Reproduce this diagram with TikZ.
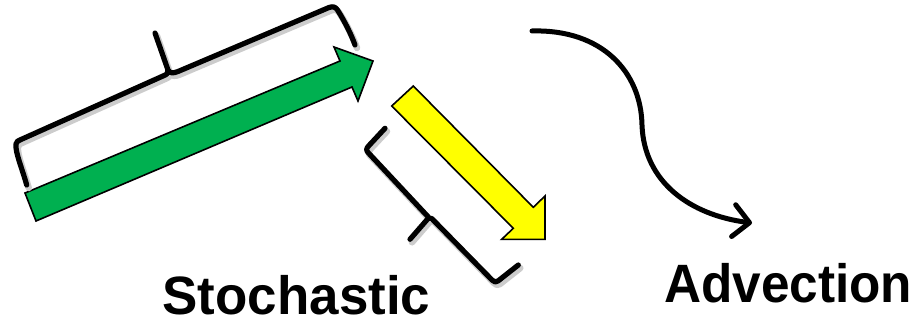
\documentclass[tikz,border=0pt]{standalone}
\usepackage{fontspec}
\setmainfont{Liberation Sans}
\usetikzlibrary{arrows.meta}
\definecolor{pptgreen}{HTML}{00B050}
\definecolor{pptyellow}{HTML}{FFFF00}
\tikzset{
  bracestroke/.style={draw=black, line width=5.2pt, line cap=round, line join=round},
  braceshadow/.style={draw=black!20, line width=6.5pt, line cap=round, line join=round, shift={(2,3)}},
  blockarrow/.style={draw=black, line width=1.6pt, line join=miter},
  label/.style={font=\fontsize{54}{60}\selectfont\bfseries, inner sep=0pt, text depth=0pt, anchor=base west},
  flow/.style={draw=black, line width=5pt, line cap=round, -{Straight Barb[length=16pt, width=32pt, line cap=round, line join=round]}}
}
\newcommand{\TopBracePath}{(26.7,185) .. controls (22,168) and (15,152) .. (16,144) .. controls (16.5,141.5) and (18,140.5) .. (21,139.5) -- (163,76) .. controls (167,74.5) and (168.5,73) .. (168,70) -- (155,33) -- (168,70) .. controls (170,73.5) and (173,73.5) .. (178,71.5) -- (329,7.5) .. controls (333,6) and (335.5,7) .. (337.5,10) .. controls (345,22) and (351,34) .. (355,45)}
\newcommand{\BotBracePath}{(385,128.3) -- (369,145.5) .. controls (366,148.5) and (366,150.5) .. (368.5,153) -- (425,213.5) .. controls (427,215.5) and (428,216) .. (428.5,218) -- (410,239.3) -- (428.5,218) .. controls (429.5,217.5) and (430.5,217.5) .. (431.7,218.5) -- (492,280) .. controls (494,282.3) and (496,282.5) .. (498,281) -- (518.3,265)}
\begin{document}
\begin{tikzpicture}[x=1pt, y=-1pt]
\useasboundingbox (0,0) rectangle (913,321);
% green block arrow
\path[blockarrow, fill=pptgreen] (25,193) -- (340,61) -- (334,47) -- (373,61) -- (358,101) -- (352,87) -- (36,221) -- cycle;
% yellow block arrow
\path[blockarrow, fill=pptyellow] (413.3,86) -- (533.3,207.3) -- (545,196) -- (545,239.3) -- (501.7,239.3) -- (513.3,228.3) -- (391.7,106) -- cycle;
% braces
\path[braceshadow] \TopBracePath;
\path[bracestroke] \TopBracePath;
\path[braceshadow] \BotBracePath;
\path[bracestroke] \BotBracePath;
% advection curve
\coordinate (cstart) at (532,31);
\coordinate (cmid) at (642,125);
\coordinate (cend) at (752,223);
\draw[flow] (cstart) .. controls (602,29) and (641,72) .. (cmid) .. controls (644,182) and (690,215) .. (cend);
% labels
\node[label, xscale=0.98] (stoch) at (162.5,314) {Stochastic};
\node[label, xscale=0.95] (adv) at (664,302) {Advection};
\end{tikzpicture}
\end{document}
